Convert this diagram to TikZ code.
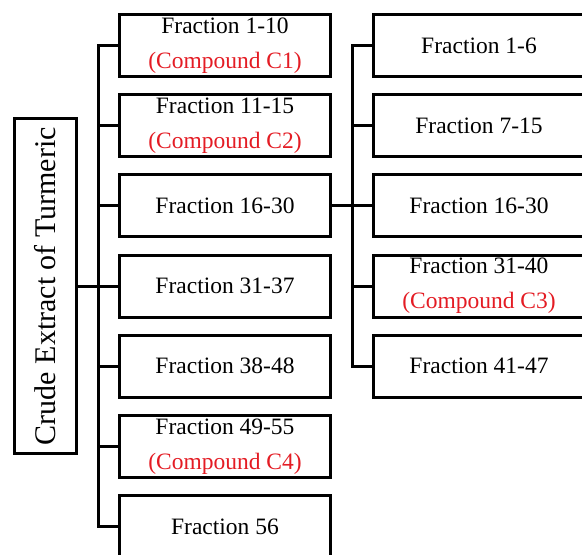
\documentclass[tikz,border=0pt]{standalone}
\usepackage{fontspec}
\setmainfont{Liberation Serif}
\usepackage{tikz}
\usetikzlibrary{positioning}
\definecolor{cpdred}{RGB}{228,28,36}
\newcommand{\cpd}[1]{\textcolor{cpdred}{(Compound #1)}}

\begin{document}
\begin{tikzpicture}[
        node distance=15.2pt and 40pt,
        box/.style={rectangle, draw=black, line width=3pt, fill=white, minimum width=211pt, minimum height=62pt, inner sep=0pt, align=center, font=\fontsize{23.5}{35}\selectfont},
        rootbox/.style={rectangle, draw=black, line width=3pt, fill=white, minimum width=62pt, minimum height=335pt, inner sep=0pt, font=\fontsize{30}{36}\selectfont},
        link/.style={draw=black, line width=3pt}
    ]
    \useasboundingbox (0,0) rectangle (582pt,555pt);

    \node[box] (f1) at (225pt,509.5pt) {Fraction 1-10\\ \cpd{C1}};
    \node[box] (f2) [below=of f1] {Fraction 11-15\\ \cpd{C2}};
    \node[box] (f3) [below=of f2] {Fraction 16-30};
    \node[box] (f4) [below=of f3] {Fraction 31-37};
    \node[box] (f5) [below=of f4] {Fraction 38-48};
    \node[box] (f6) [below=of f5] {Fraction 49-55\\ \cpd{C4}};
    \node[box] (f7) [below=of f6] {Fraction 56};

    \node[rootbox] (crude) [left=of f4] {\rotatebox{90}{Crude Extract of Turmeric}};

    \node[box] (s1) [right=of f1] {Fraction 1-6};
    \node[box] (s2) [below=of s1] {Fraction 7-15};
    \node[box] (s3) [below=of s2] {Fraction 16-30};
    \node[box] (s4) [below=of s3] {Fraction 31-40\\ \cpd{C3}};
    \node[box] (s5) [below=of s4] {Fraction 41-47};

    \coordinate[left=20pt of f1.west] (ltrunk);
    \coordinate[left=20pt of s1.west] (rtrunk);

    \draw[link] (crude) -- (f4);
    \draw[link] (f1.west) -- (ltrunk) |- (f7.west);
    \foreach \i in {2,...,6}
        \draw[link] (f\i.west) -- (f\i.west -| ltrunk);

    \draw[link] (f3) -- (s3);
    \draw[link] (s1.west) -- (rtrunk) |- (s5.west);
    \foreach \i in {2,4}
        \draw[link] (s\i.west) -- (s\i.west -| rtrunk);

\end{tikzpicture}
\end{document}
